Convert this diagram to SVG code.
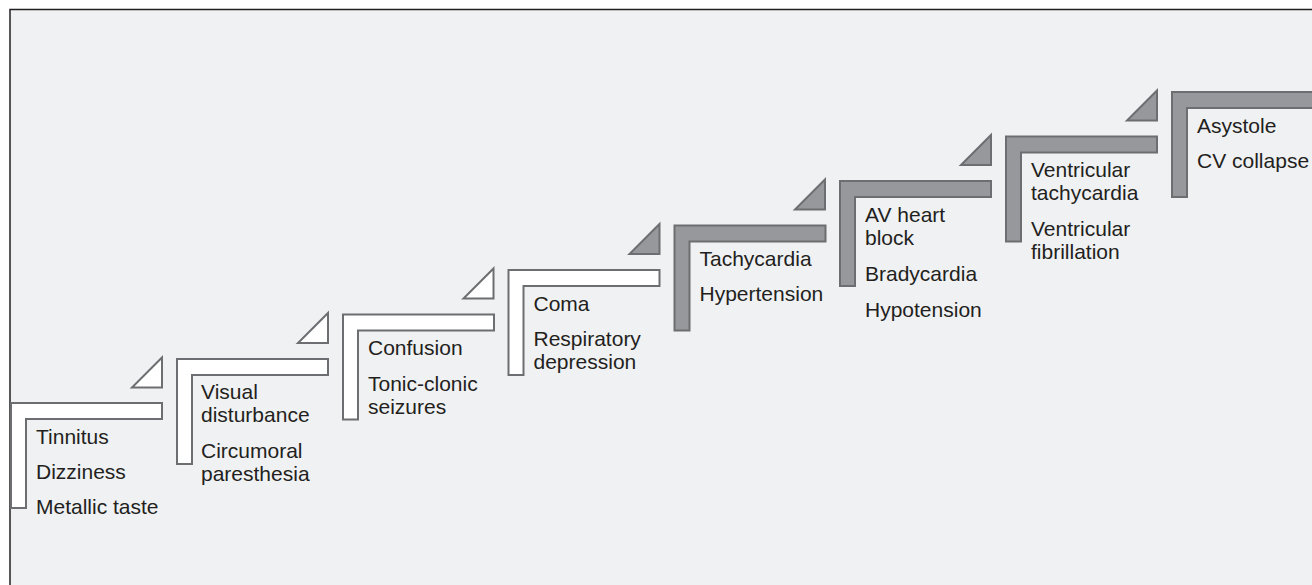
<svg xmlns="http://www.w3.org/2000/svg" xmlns:xlink="http://www.w3.org/1999/xlink" width="1312" height="585" viewBox="0 0 1312 585">
  <style>
    .panel { fill: #f0f1f3; stroke: #231f20; stroke-width: 1.5; }
    .light { fill: #ffffff; stroke: #6d6e71; stroke-width: 2; stroke-linejoin: miter; }
    .dark { fill: #97989b; stroke: #6d6e71; stroke-width: 2; stroke-linejoin: miter; }
    text { font-family: "Liberation Sans", Arial, Helvetica, sans-serif; font-size: 21px; fill: #231f20; }
  </style>
  <defs>
    <!-- L-shaped stair tread: bar on top, post on the left -->
    <path id="stair" d="M0,0 H151 V16 H15 V105 H0 Z"/>
    <!-- wedge sitting above the previous tread, leading into this one -->
    <path id="wedge" d="M-45,28.5 H-15 V-1.5 Z"/>
  </defs>

  <rect class="panel" x="10" y="9.5" width="1320" height="590"/>

  <g id="step1" transform="translate(11,403)">
    <use href="#stair" xlink:href="#stair" class="light"/>
    <text x="25" y="40.5">Tinnitus</text>
    <text x="25" y="75.5">Dizziness</text>
    <text x="25" y="110.5">Metallic taste</text>
  </g>

  <g id="step2" transform="translate(177,359)">
    <use href="#wedge" xlink:href="#wedge" class="light"/>
    <use href="#stair" xlink:href="#stair" class="light"/>
    <text x="24" y="39.5">Visual</text>
    <text x="24" y="62.5">disturbance</text>
    <text x="24" y="99">Circumoral</text>
    <text x="24" y="122">paresthesia</text>
  </g>

  <g id="step3" transform="translate(343,314.5)">
    <use href="#wedge" xlink:href="#wedge" class="light"/>
    <use href="#stair" xlink:href="#stair" class="light"/>
    <text x="25" y="40.5">Confusion</text>
    <text x="25" y="76">Tonic-clonic</text>
    <text x="25" y="99">seizures</text>
  </g>

  <g id="step4" transform="translate(508.5,270)">
    <use href="#wedge" xlink:href="#wedge" class="light"/>
    <use href="#stair" xlink:href="#stair" class="light"/>
    <text x="25" y="40.5">Coma</text>
    <text x="25" y="76">Respiratory</text>
    <text x="25" y="99">depression</text>
  </g>

  <g id="step5" transform="translate(674.5,225.5)">
    <use href="#wedge" xlink:href="#wedge" class="dark"/>
    <use href="#stair" xlink:href="#stair" class="dark"/>
    <text x="25" y="40">Tachycardia</text>
    <text x="25" y="75.5">Hypertension</text>
  </g>

  <g id="step6" transform="translate(840,181)">
    <use href="#wedge" xlink:href="#wedge" class="dark"/>
    <use href="#stair" xlink:href="#stair" class="dark"/>
    <text x="25" y="40.5">AV heart</text>
    <text x="25" y="63.5">block</text>
    <text x="25" y="99.5">Bradycardia</text>
    <text x="25" y="135.5">Hypotension</text>
  </g>

  <g id="step7" transform="translate(1006,136.5)">
    <use href="#wedge" xlink:href="#wedge" class="dark"/>
    <use href="#stair" xlink:href="#stair" class="dark"/>
    <text x="25" y="40.5">Ventricular</text>
    <text x="25" y="63.5">tachycardia</text>
    <text x="25" y="99.5">Ventricular</text>
    <text x="25" y="122.5">fibrillation</text>
  </g>

  <g id="step8" transform="translate(1172,92)">
    <use href="#wedge" xlink:href="#wedge" class="dark"/>
    <use href="#stair" xlink:href="#stair" class="dark"/>
    <text x="25" y="40.5">Asystole</text>
    <text x="25" y="75.5">CV collapse</text>
  </g>

  <g id="connectors"/>
</svg>
